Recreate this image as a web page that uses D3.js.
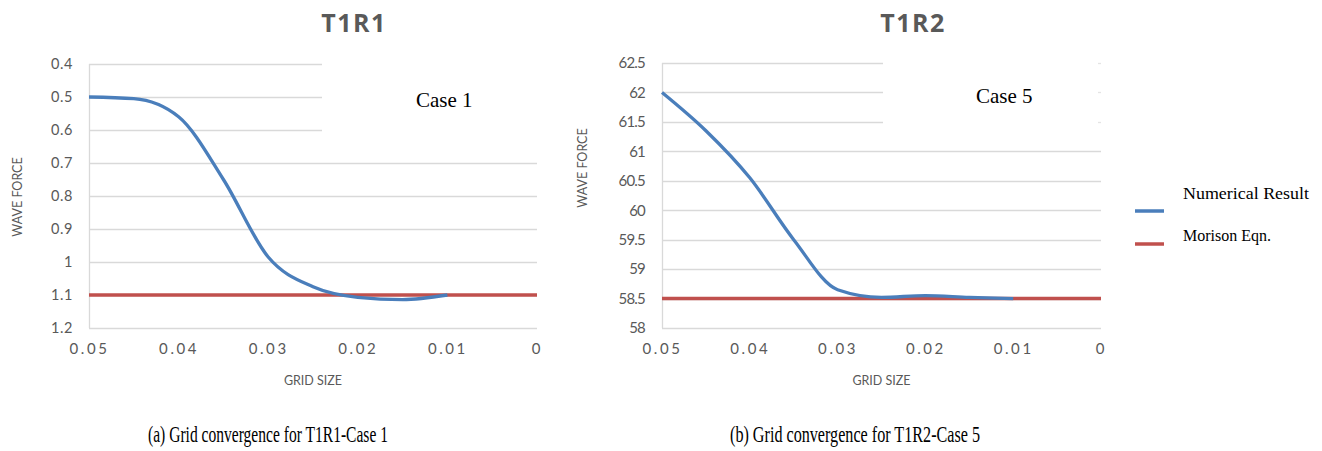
<!DOCTYPE html>
<html>
<head>
<meta charset="utf-8">
<script src="https://cdn.jsdelivr.net/npm/d3@7"></script>
<style>
  body { margin: 0; background: #fff; }
  svg { display: block; }
</style>
</head>
<body>
<div class="plot"></div>
<script>
// DATA
var gridSize = [0.05, 0.045, 0.04, 0.035, 0.03, 0.025, 0.02, 0.015, 0.01];
var numericalT1R1 = [0.50, 0.505, 0.56, 0.75, 0.985, 1.075, 1.107, 1.114, 1.10];
var numericalT1R2 = [62.0, 61.35, 60.55, 59.5, 58.65, 58.52, 58.55, 58.52, 58.5];
var morisonRange = [0.05, 0];
var morisonT1R1 = 1.1;
var morisonT1R2 = 58.5;
var xTicks = [0.05, 0.04, 0.03, 0.02, 0.01, 0];
var yTicksT1R1 = [0.4, 0.5, 0.6, 0.7, 0.8, 0.9, 1, 1.1, 1.2];
var yTicksT1R2 = [58, 58.5, 59, 59.5, 60, 60.5, 61, 61.5, 62, 62.5];
var legendNames = ["Numerical Result", "Morison Eqn."];
var colors = ["#4a7ebb", "#c0504d"];

var w = 1322;
var h = 451;
var svg = d3.select(".plot").append("svg").attr("width", w).attr("height", h);

var sans = "Lato, 'Open Sans', sans-serif";
var serif = "'Liberation Serif', 'Times New Roman', serif";
var grey = "#595959";

function drawPanel(opt) {
  var xScale = d3.scaleLinear().domain([0.05, 0]).range([opt.left, opt.right]);
  var yScale = d3.scaleLinear().domain(opt.yDomain).range([opt.top, opt.bottom]);

  var g = svg.append("g");

  // gridlines (the top ones are hidden behind the case label box)
  g.selectAll(".grid")
    .data(opt.yTicks)
    .enter()
    .append("line")
    .attr("x1", opt.left)
    .attr("x2", function (d) { return opt.boxed.indexOf(d) >= 0 ? opt.boxLeft : opt.right; })
    .attr("y1", function (d) { return Math.round(yScale(d)) + 0.5; })
    .attr("y2", function (d) { return Math.round(yScale(d)) + 0.5; })
    .attr("stroke", "#d9d9d9")
    .attr("stroke-width", 1.3);

  if (opt.stub) {
    g.selectAll(".stub")
      .data(opt.boxed)
      .enter()
      .append("line")
      .attr("x1", opt.right - 3)
      .attr("x2", opt.right)
      .attr("y1", function (d) { return Math.round(yScale(d)) + 0.5; })
      .attr("y2", function (d) { return Math.round(yScale(d)) + 0.5; })
      .attr("stroke", "#e4e4e4")
      .attr("stroke-width", 1.3);
  }

  // left axis line
  g.append("line")
    .attr("x1", opt.left + 0.5).attr("x2", opt.left + 0.5)
    .attr("y1", opt.top).attr("y2", opt.bottom)
    .attr("stroke", "#d9d9d9")
    .attr("stroke-width", 1.3);

  // AXES
  var yAxis = d3.axisLeft(yScale).tickValues(opt.yTicks).tickSize(0).tickPadding(opt.yPad)
    .tickFormat(function (d) { return String(d); });
  var ya = g.append("g").attr("transform", "translate(" + opt.left + ",0)").call(yAxis);
  ya.select(".domain").remove();
  ya.selectAll("text")
    .attr("fill", grey)
    .attr("font-family", sans)
    .attr("font-size", opt.yFont)
    .attr("letter-spacing", opt.ySpacing);

  var xAxis = d3.axisBottom(xScale).tickValues(xTicks).tickSize(0).tickPadding(opt.xPad)
    .tickFormat(function (d) { return String(d); });
  var xa = g.append("g").attr("transform", "translate(0," + opt.bottom + ")").call(xAxis);
  xa.select(".domain").remove();
  xa.selectAll("text")
    .attr("fill", grey)
    .attr("font-family", sans)
    .attr("font-size", "15px")
    .attr("letter-spacing", "2.6px");

  // Morison line
  g.append("path")
    .datum(morisonRange)
    .attr("d", d3.line()
      .x(function (d) { return xScale(d); })
      .y(function () { return yScale(opt.morison); }))
    .attr("fill", "none")
    .attr("stroke", colors[1])
    .attr("stroke-width", 3.4);

  // numerical result
  g.append("path")
    .datum(gridSize)
    .attr("d", d3.line()
      .curve(d3.curveMonotoneX)
      .x(function (d) { return xScale(d); })
      .y(function (d, i) { return yScale(opt.values[i]); }))
    .attr("fill", "none")
    .attr("stroke", colors[0])
    .attr("stroke-width", 3.3);

  // titles and labels
  g.append("text")
    .attr("x", opt.titleX).attr("y", 32)
    .attr("text-anchor", "middle")
    .attr("font-family", "'Open Sans', sans-serif")
    .attr("font-weight", "bold")
    .attr("font-size", "25px")
    .attr("letter-spacing", "1.5px")
    .attr("fill", grey)
    .text(opt.title);

  g.append("text")
    .attr("x", opt.caseX).attr("y", opt.caseY)
    .attr("font-family", serif)
    .attr("font-size", "21px")
    .attr("fill", "#000")
    .text(opt.caseText);

  g.append("text")
    .attr("transform", "translate(" + opt.yLabelX + "," + opt.yLabelY + ") rotate(-90)")
    .attr("text-anchor", "middle")
    .attr("dy", "0.35em")
    .attr("font-family", sans)
    .attr("font-size", "12.5px")
    .attr("fill", grey)
    .text("WAVE FORCE");

  g.append("text")
    .attr("x", (opt.left + opt.right) / 2).attr("y", 385)
    .attr("text-anchor", "middle")
    .attr("font-family", sans)
    .attr("font-size", "12.5px")
    .attr("fill", grey)
    .text("GRID SIZE");

  g.append("text")
    .attr("x", opt.capX).attr("y", 442)
    .attr("font-family", serif)
    .attr("font-size", "23px")
    .attr("textLength", opt.capLen)
    .attr("lengthAdjust", "spacingAndGlyphs")
    .attr("fill", "#000")
    .text(opt.caption);
}

drawPanel({
  left: 89, right: 537, top: 64, bottom: 328,
  yDomain: [0.4, 1.2], yTicks: yTicksT1R1,
  boxed: [0.4, 0.5, 0.6], boxLeft: 322, stub: false,
  yPad: 16, yFont: "14.5px", ySpacing: "0.6px", xPad: 15,
  values: numericalT1R1, morison: morisonT1R1,
  title: "T1R1", titleX: 354,
  caseText: "Case 1", caseX: 416, caseY: 107,
  yLabelX: 18, yLabelY: 197,
  caption: "(a) Grid convergence for T1R1-Case 1", capX: 148, capLen: 240
});

drawPanel({
  left: 662, right: 1101, top: 63, bottom: 328,
  yDomain: [62.5, 58], yTicks: yTicksT1R2,
  boxed: [61.5, 62, 62.5], boxLeft: 883, stub: true,
  yPad: 17, yFont: "15px", ySpacing: "-0.8px", xPad: 15,
  values: numericalT1R2, morison: morisonT1R2,
  title: "T1R2", titleX: 913,
  caseText: "Case 5", caseX: 976, caseY: 103,
  yLabelX: 583, yLabelY: 168,
  caption: "(b) Grid convergence for T1R2-Case 5", capX: 730, capLen: 250
});

// LEGEND (right panel)
var legend = svg.append("g");
var legendY = [211, 244];
var legendTextY = [199, 241];
legend.selectAll("line")
  .data(legendNames)
  .enter()
  .append("line")
  .attr("x1", 1135).attr("x2", 1164)
  .attr("y1", function (d, i) { return legendY[i]; })
  .attr("y2", function (d, i) { return legendY[i]; })
  .attr("stroke", function (d, i) { return colors[i]; })
  .attr("stroke-width", 3.5);
legend.selectAll("text")
  .data(legendNames)
  .enter()
  .append("text")
  .attr("x", 1183)
  .attr("y", function (d, i) { return legendTextY[i]; })
  .attr("font-family", serif)
  .attr("font-size", "17px")
  .attr("textLength", function (d, i) { return [126, 88][i]; })
  .attr("lengthAdjust", "spacingAndGlyphs")
  .attr("fill", "#000")
  .text(function (d) { return d; });
</script>
</body>
</html>
